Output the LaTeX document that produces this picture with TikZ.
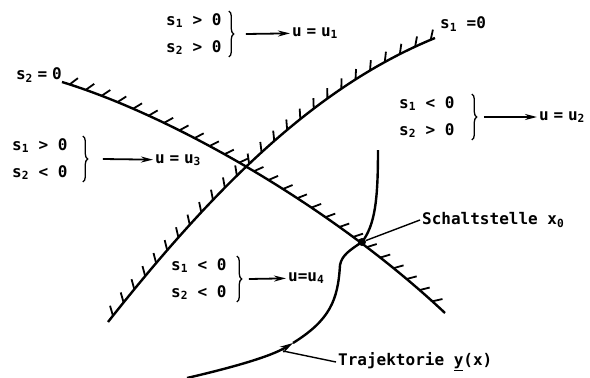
\documentclass[tikz,border=0pt]{standalone}
\usepackage{fontspec}
\setmainfont{DejaVu Sans Mono}
\usetikzlibrary{arrows.meta,decorations.markings,decorations.pathreplacing}

\tikzset{
  grenze/.style={line width=2.4pt, postaction={decorate},
    decoration={markings, mark=between positions 8pt and -4pt step 17pt with {\draw[line width=1.8pt] (0,0) -- (6pt,8.5pt);}}},
  bed/.style={align=left, inner sep=2pt, font=\bfseries\fontsize{16}{27}\selectfont},
  txt/.style={inner sep=2pt, font=\bfseries\fontsize{16}{19}\selectfont},
  klammer/.style={decorate, decoration={brace, amplitude=5pt}, line width=1.3pt},
  pfeil/.style={line width=1.8pt, -{Stealth[length=12pt, width=6pt]}},
  bahn/.style={line width=2.4pt},
}
\newcommand{\gl}{\hspace{0.3em}=\hspace{0.3em}}

\begin{document}
\begin{tikzpicture}[x=1pt, y=-1pt]
  \useasboundingbox (0,0) rectangle (590,378);
  \draw[grenze] (62,82) .. controls (170,115) and (330,205) .. (445,313);
  \draw[grenze] (108,322) .. controls (220,180) and (320,85) .. (435,38);
  \node[txt, anchor=east] (g2) at (64,75) {s\textsubscript{2}\gl 0};
  \node[txt, anchor=west] (g1) at (438,24) {s\textsubscript{1} =0};

  \node[bed, anchor=west] (c1) at (164,34) {s\textsubscript{1} > 0\\s\textsubscript{2} > 0};
  \draw[klammer] ([xshift=5pt]c1.north east) -- ([xshift=5pt]c1.south east);
  \coordinate (k1) at ([xshift=22pt]c1.east);
  \node[txt, anchor=west] (u1) at (290,33) {u\gl u\textsubscript{1}};
  \draw[pfeil] (k1) -- (u1);

  \node[bed, anchor=west] (c2) at (397,117) {s\textsubscript{1} < 0\\s\textsubscript{2} > 0};
  \draw[klammer] ([xshift=15pt]c2.north east) -- ([xshift=15pt]c2.south east);
  \coordinate (k2) at ([xshift=27pt]c2.east);
  \node[txt, anchor=west] (u2) at (537,117) {u\gl u\textsubscript{2}};
  \draw[pfeil] (k2) -- (u2);

  \node[bed, anchor=west] (c3) at (10,159) {s\textsubscript{1} > 0\\s\textsubscript{2} < 0};
  \draw[klammer] ([xshift=13pt]c3.north east) -- ([xshift=13pt]c3.south east);
  \coordinate (k3) at ([xshift=33pt]c3.east);
  \node[txt, anchor=west] (u3) at (153,160) {u\gl u\textsubscript{3}};
  \draw[pfeil] (k3) -- (u3);

  \node[bed, anchor=west] (c4) at (169,279) {s\textsubscript{1} < 0\\s\textsubscript{2} < 0};
  \draw[klammer] ([xshift=8pt]c4.north east) -- ([xshift=8pt]c4.south east);
  \coordinate (k4) at ([xshift=20pt]c4.east);
  \node[txt, anchor=west] (u4) at (286,278) {u=u\textsubscript{4}};
  \draw[pfeil] (k4) -- (u4);

  \node[circle, fill, inner sep=0pt, minimum size=8pt] (x0) at (362,242) {};
  \draw[bahn, -{Stealth[length=13pt, width=7pt]}] (187,378) .. controls (230,368) and (270,357) .. (293,343);
  \draw[bahn] (293,343) .. controls (330,320) and (338,300) .. (340,265)
    .. controls (342,255) and (350,250) .. (x0.center)
    .. controls (375,225) and (378,200) .. (378,150);
  \node[txt, anchor=west] (schalt) at (420,220) {Schaltstelle x\textsubscript{0}};
  \draw[line width=1.4pt] (x0) -- (schalt.west);
  \coordinate (t0) at (283,351);
  \node[txt, anchor=west] (traj) at (336,362) {Trajektorie \underline{y}(x)};
  \draw[line width=1.4pt] (t0) -- (traj.west);
\end{tikzpicture}
\end{document}
